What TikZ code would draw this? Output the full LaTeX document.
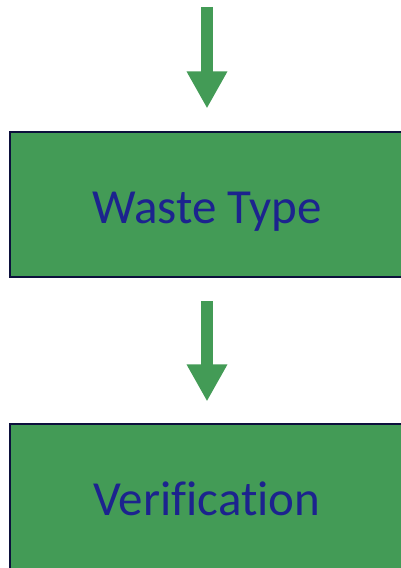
\documentclass[tikz,border=0pt]{standalone}
\usepackage{fontspec}
\setmainfont[Ligatures=NoCommon]{Carlito}
\usetikzlibrary{arrows.meta}
\definecolor{boxgreen}{RGB}{67,155,86}
\definecolor{boxline}{RGB}{12,16,60}
\definecolor{textblue}{RGB}{28,35,142}

\begin{document}
\begin{tikzpicture}[x=1pt,y=1pt,
	box/.style={draw=boxline, line width=2pt, fill=boxgreen, text=textblue,
		minimum width=394pt, minimum height=145pt, inner sep=0pt,
		text height=37pt, text depth=0pt, font=\fontsize{49}{59}\selectfont},
	flow/.style={draw=boxgreen, line width=12.5pt, -{Triangle[width=38pt,length=37pt]}}]
	% Frame
	\useasboundingbox (0,0) rectangle (401,568);
	
	% Boxes
	\node[box] (waste) at (207,363) {Waste Type};
	\node[box] (verif) at (207,71) {Verification};
	
	% Arrows
	\coordinate (start) at (207,561);
	\draw[flow, shorten >=23pt] (start) -- (waste.north);
	\draw[flow, shorten <=23pt, shorten >=22pt] (waste.south) -- (verif.north);
\end{tikzpicture}
\end{document}
